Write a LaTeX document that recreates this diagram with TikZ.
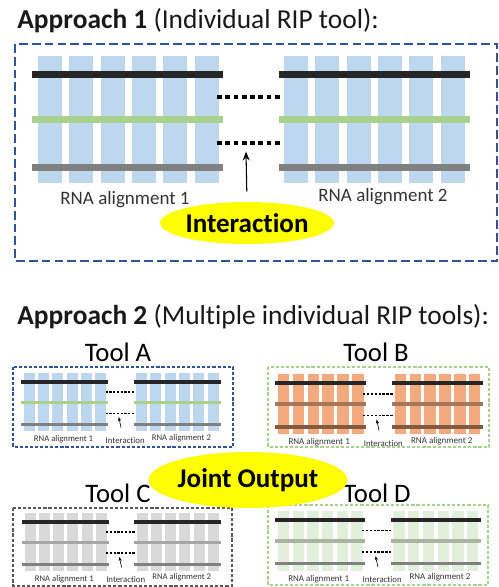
\documentclass[tikz,border=0pt]{standalone}
\usepackage{fontspec}
\setmainfont{Carlito}[Ligatures=NoCommon]
\usetikzlibrary{arrows.meta,shapes.geometric}

\definecolor{colblue}{HTML}{BDD7EE}
\definecolor{colorange}{HTML}{F3AA7E}
\definecolor{colgray}{HTML}{D9D9D9}
\definecolor{colgreen}{HTML}{E2EFDA}
\definecolor{railblack}{HTML}{262626}
\definecolor{railgreen}{HTML}{A9D18E}
\definecolor{railgray}{HTML}{808080}
\definecolor{railmidgray}{HTML}{A6A6A6}
\definecolor{railbrownA}{HTML}{A5765A}
\definecolor{railbrownB}{HTML}{845A3E}
\definecolor{railsage}{HTML}{A9B5A0}
\definecolor{boxblue}{HTML}{2F5597}
\definecolor{boxgreen}{HTML}{A9D18E}
\definecolor{boxgray}{HTML}{595959}
\definecolor{bubble}{HTML}{FFFF00}

% two alignments with rails, columns, dotted links and labels
\newcommand{\rnapair}[6]{%
  \begin{scope}[shift={#2},scale=#3,transform shape]
    \pgfmathsetmacro{\dotw}{2*#3}
    \pgfmathsetmacro{\doton}{2.8*#3}
    \pgfmathsetmacro{\dotoff}{1.9*#3}
    \foreach \i in {0,...,5} {
      \fill[#4] (6+31.3*\i,-19) rectangle ++(24,127);
      \fill[#4] (252+31.3*\i,-19) rectangle ++(24,127);
    }
    \foreach \y/\c in {0/railblack,44.5/#5,92.5/#6} {
      \fill[\c] (0,\y-3.5) rectangle ++(191,7);
      \fill[\c] (247,\y-3.5) rectangle ++(191,7);
    }
    \coordinate (#1-d1) at (185,22.5);
    \coordinate (#1-e1) at (251,22.5);
    \coordinate (#1-d2) at (185,68.5);
    \coordinate (#1-e2) at (251,68.5);
    \coordinate (#1-tip) at (214,77);
    \coordinate (#1-foot) at (219,100);
    \coordinate (#1-mid) at (228,127);
    \foreach \a/\b in {d1/e1,d2/e2}
      \draw[line width=\dotw pt,dash pattern=on \doton pt off \dotoff pt] (#1-\a) -- (#1-\b);
    \node[mylabel] (#1-lab1) at (93,125) {RNA alignment 1};
    \node[mylabel] (#1-lab2) at (351,122) {RNA alignment 2};
  \end{scope}}

\begin{document}
\begin{tikzpicture}[x=0.02cm,y=-0.02cm,
      mytitle/.style={
         anchor=base west,
         inner sep=0pt,
         text=black!90,
         font=\fontsize{15.6}{18}\selectfont},
      mytool/.style={
         inner sep=0pt,
         font=\fontsize{15.2}{17}\selectfont},
      mylabel/.style={
         inner sep=0pt,
         text=black!80,
         font=\fontsize{10.8}{13}\selectfont},
      mytiny/.style={
         inner sep=0pt,
         text=black!80,
         font=\fontsize{5}{6}\selectfont},
      myellipse/.style={
         ellipse,
         fill=bubble,
         inner sep=0pt,
         font=\bfseries\fontsize{15.4}{18}\selectfont},
      bigbox/.style={draw=boxblue,line width=1.3pt,dash pattern=on 5pt off 2.3pt},
      toolbox/.style={line width=0.7pt,dash pattern=on 1.8pt off 1.1pt},
      myarrow/.style={-{Stealth[length=5pt,width=4pt]},line width=0.6pt},
      tinyarrow/.style={-{Stealth[length=2.2pt,width=1.8pt]},line width=0.35pt}
      ]
    \useasboundingbox (0,0) rectangle (499,587);
    % approach 1
    \node[mytitle] (app1) at (17,29) {\textbf{Approach 1} (Individual RIP tool):};
    \draw[bigbox] (15,44) rectangle (497,261);
    \rnapair{a1}{(32,74.7)}{1}{colblue}{railgreen}{railgray}
    \node[myellipse,minimum width=2.9cm,minimum height=0.84cm] (inter) at (247,223) {Interaction};
    \draw[myarrow,shorten <=0.2cm] (inter.north) -- (a1-tip);
    % approach 2
    \node[mytitle] (app2) at (17,324) {\textbf{Approach 2} (Multiple individual RIP tools):};
    \node[mytool] (toolA) at (118,352) {Tool A};
    \node[mytool] (toolB) at (376,352) {Tool B};
    \node[mytool] (toolC) at (118,493) {Tool C};
    \node[mytool] (toolD) at (377,493) {Tool D};
    \draw[toolbox,draw=boxblue] (13,367) rectangle (233,447);
    \draw[toolbox,draw=boxgreen] (268,367) rectangle (489,447);
    \draw[toolbox,draw=boxgray] (13,508) rectangle (232,586);
    \draw[toolbox,draw=boxgreen] (268,505) rectangle (488,585);
    \rnapair{ta}{(21,382)}{0.457}{colblue}{railgreen}{railgray}
    \rnapair{tb}{(275,383)}{0.475}{colorange}{railbrownA}{railbrownB}
    \rnapair{tc}{(22,522)}{0.455}{colgray}{railmidgray}{railgray}
    \rnapair{td}{(275,520)}{0.47}{colgreen}{railsage}{railgray}
    \foreach \t in {ta,tb,tc,td} {
      \node[mytiny] (\t-int) at (\t-mid) {Interaction};
      \draw[tinyarrow] (\t-foot) -- (\t-tip);
    }
    \node[myellipse,minimum width=3.66cm,minimum height=1.12cm] (joint) at (248,480) {Joint Output};
\end{tikzpicture}
\end{document}
